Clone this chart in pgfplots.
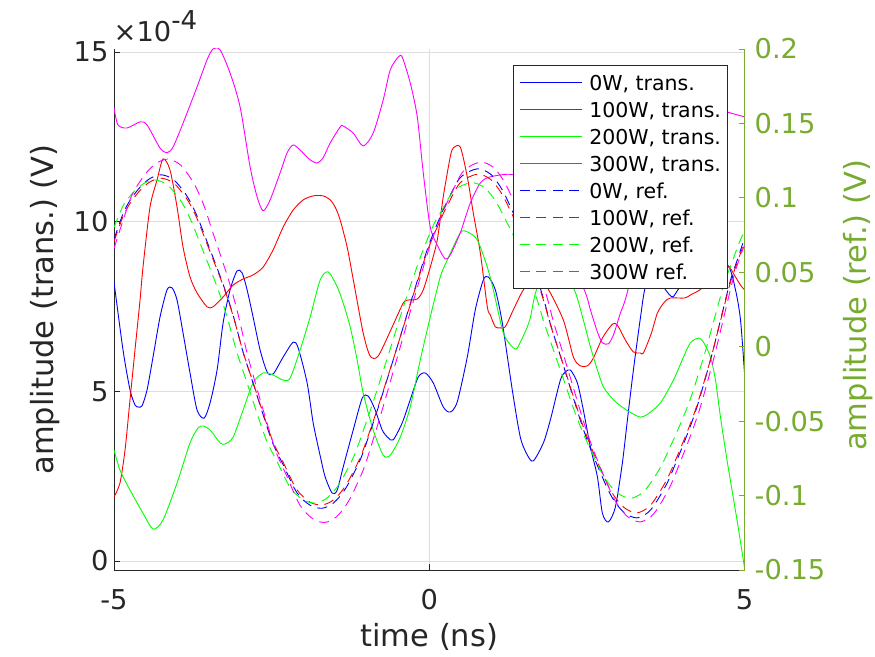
\documentclass[border=0pt]{standalone}
\usepackage{pgfplots}
\pgfplotsset{compat=1.18}
\usepackage{fontspec}
\setmainfont{DejaVu Sans}
\frenchspacing
\definecolor{axgray}{RGB}{38,38,38}
\definecolor{olivec}{RGB}{119,172,48}
\definecolor{gridc}{RGB}{222,222,222}
\definecolor{colB}{RGB}{0,0,255}
\definecolor{colR}{RGB}{255,0,0}
\definecolor{colG}{RGB}{0,255,0}
\definecolor{colM}{RGB}{255,0,255}
\begin{document}
\begin{tikzpicture}
\useasboundingbox (0,0) rectangle (875pt,656pt);
\begin{axis}[
  at={(114pt,86pt)}, anchor=south west,
  width=630.5pt, height=521pt, scale only axis,
  xmin=-5, xmax=5, ymin=-0.265, ymax=15.088,
  axis x line*=bottom, axis y line*=left,
  axis line style={axgray, line width=0.9pt},
  xtick={-5,0,5}, xticklabels={-5,0,5},
  ytick={0,5,10,15}, yticklabels={0,5,10,15},
  tick align=inside, major tick length=6pt,
  tick style={axgray, line width=0.9pt},
  grid=major, grid style={gridc, line width=0.8pt},
  ticklabel style={font=\fontsize{27.3}{32}\selectfont, text=axgray, inner sep=0pt},
  xticklabel style={yshift=-19pt},
  yticklabel style={xshift=-5.4pt},
  xlabel={time (ns)}, ylabel={amplitude (trans.) (V)},
  every axis x label/.style={at={(axis description cs:0.5,0)}, anchor=base, yshift=-76.7pt, font=\fontsize{30.5}{36}\selectfont, text=axgray},
  every axis y label/.style={at={(axis description cs:-0.0967,0.5)}, rotate=90, anchor=base, font=\fontsize{30.5}{36}\selectfont, text=axgray},
  every axis plot/.append style={line width=0.9pt, smooth, tension=0.45},
]
% 0W trans.
\addplot[draw=colB] coordinates {(-5.000,8.22) (-4.857,6.22) (-4.746,5.04) (-4.667,4.60) (-4.619,4.54) (-4.556,4.57) (-4.476,5.04) (-4.381,6.01) (-4.270,7.19) (-4.159,7.99) (-4.079,8.05) (-4.000,7.69) (-3.905,6.72) (-3.794,5.54) (-3.683,4.45) (-3.571,4.21) (-3.476,4.66) (-3.365,5.63) (-3.270,7.01) (-3.159,7.99) (-3.048,8.55) (-2.968,8.49) (-2.889,7.99) (-2.794,7.19) (-2.683,6.22) (-2.571,5.57) (-2.476,5.51) (-2.317,6.01) (-2.159,6.45) (-2.079,6.28) (-1.937,5.25) (-1.841,4.07) (-1.730,3.10) (-1.651,2.48) (-1.540,2.00) (-1.460,2.09) (-1.365,2.77) (-1.206,3.86) (-1.063,4.80) (-0.968,4.86) (-0.857,4.45) (-0.746,3.86) (-0.651,3.63) (-0.571,3.57) (-0.429,4.07) (-0.302,4.75) (-0.175,5.42) (-0.063,5.54) (0.063,5.25) (0.222,4.54) (0.333,4.39) (0.444,4.69) (0.603,6.01) (0.730,7.40) (0.857,8.28) (0.937,8.37) (1.048,7.99) (1.159,7.01) (1.317,5.04) (1.444,3.65) (1.556,3.12) (1.651,2.95) (1.810,3.48) (1.921,4.16) (2.079,5.33) (2.159,5.57) (2.238,5.63) (2.349,5.25) (2.444,4.45) (2.556,3.36) (2.667,2.48) (2.746,1.41) (2.841,1.15) (2.952,1.59) (3.063,2.89) (3.143,4.16) (3.238,5.63) (3.349,7.16) (3.429,8.08) (3.587,8.45) (3.714,8.08) (3.857,7.78) (3.984,8.08) (4.350,8.60) (4.730,8.70) (4.857,7.99) (4.937,7.10) (5.000,5.54)};
% 100W trans.
\addplot[draw=colR] coordinates {(-5.000,1.89) (-4.905,2.30) (-4.825,3.27) (-4.746,4.75) (-4.667,6.22) (-4.587,7.69) (-4.540,8.66) (-4.429,10.43) (-4.317,11.23) (-4.222,11.85) (-4.111,11.52) (-4.000,10.43) (-3.905,9.25) (-3.794,8.37) (-3.683,7.90) (-3.524,7.49) (-3.429,7.49) (-3.270,7.78) (-3.111,8.13) (-2.952,8.31) (-2.794,8.43) (-2.635,8.66) (-2.476,9.17) (-2.317,9.84) (-2.159,10.34) (-2.000,10.64) (-1.841,10.76) (-1.683,10.76) (-1.571,10.64) (-1.492,10.43) (-1.413,10.05) (-1.302,9.25) (-1.206,8.30) (-1.048,6.72) (-0.937,6.04) (-0.810,6.04) (-0.587,6.90) (-0.413,7.60) (-0.333,7.69) (-0.190,7.72) (-0.095,7.99) (0.016,8.66) (0.127,9.46) (0.222,10.73) (0.333,11.91) (0.381,12.17) (0.492,12.20) (0.603,11.32) (0.698,10.26) (0.810,9.08) (0.921,7.49) (0.968,7.25) (1.048,6.90) (1.127,6.87) (1.206,6.90) (1.333,7.40) (1.492,7.99) (1.635,8.25) (1.762,8.08) (1.873,8.05) (2.127,7.10) (2.286,6.01) (2.397,5.75) (2.508,5.75) (2.603,5.98) (2.746,6.57) (2.905,6.98) (2.984,6.95) (3.111,6.51) (3.238,6.16) (3.349,6.13) (3.397,6.13) (3.524,6.72) (3.619,7.31) (3.730,7.63) (3.825,7.75) (4.048,7.75) (4.143,7.84) (4.333,8.05) (4.550,8.60) (4.730,8.72) (4.857,8.37) (4.937,8.13) (5.000,7.99)};
% 200W trans.
\addplot[draw=colG] coordinates {(-5.000,3.27) (-4.905,2.68) (-4.746,2.09) (-4.540,1.41) (-4.381,0.94) (-4.222,1.21) (-4.000,2.30) (-3.794,3.48) (-3.667,3.92) (-3.587,3.98) (-3.476,3.86) (-3.317,3.48) (-3.238,3.45) (-3.111,3.65) (-2.952,4.45) (-2.794,5.25) (-2.635,5.54) (-2.476,5.48) (-2.317,5.33) (-2.206,5.39) (-2.048,6.22) (-1.889,7.19) (-1.730,8.28) (-1.603,8.52) (-1.460,8.08) (-1.365,7.60) (-1.254,6.90) (-1.143,5.92) (-1.048,4.95) (-0.889,3.86) (-0.730,3.12) (-0.619,3.12) (-0.460,3.65) (-0.302,4.54) (-0.143,5.92) (0.016,7.19) (0.175,8.37) (0.286,8.87) (0.492,9.67) (0.603,9.70) (0.762,9.46) (0.921,8.66) (1.016,7.99) (1.175,6.72) (1.317,6.31) (1.397,6.28) (1.556,6.90) (1.603,7.16) (1.714,8.05) (2.000,8.55) (2.286,8.05) (2.444,7.10) (2.556,6.31) (2.667,5.63) (2.762,5.13) (2.921,4.75) (3.079,4.51) (3.238,4.33) (3.349,4.24) (3.460,4.32) (3.667,4.66) (3.873,5.33) (4.032,6.01) (4.143,6.43) (4.270,6.57) (4.349,6.45) (4.460,6.01) (4.540,5.33) (4.619,4.24) (4.730,2.89) (4.889,1.12) (5.000,-0.20)};
% 300W trans.
\addplot[draw=colM] coordinates {(-5.000,13.35) (-4.937,12.85) (-4.794,12.76) (-4.587,12.94) (-4.476,12.85) (-4.270,12.17) (-4.159,12.03) (-4.063,12.20) (-3.905,12.90) (-3.683,13.97) (-3.524,14.77) (-3.429,15.09) (-3.317,15.06) (-3.159,14.38) (-3.000,13.38) (-2.841,11.61) (-2.730,10.73) (-2.635,10.32) (-2.524,10.64) (-2.365,11.44) (-2.254,12.03) (-2.159,12.26) (-2.048,12.11) (-1.889,11.82) (-1.778,11.73) (-1.683,11.88) (-1.571,12.32) (-1.413,12.79) (-1.365,12.82) (-1.206,12.61) (-1.048,12.23) (-0.889,12.61) (-0.730,13.59) (-0.619,14.47) (-0.492,14.85) (-0.429,14.85) (-0.302,14.09) (-0.190,13.09) (-0.095,11.44) (0.016,9.84) (0.143,9.25) (0.254,8.90) (0.333,9.02) (0.492,9.67) (0.651,10.55) (0.810,11.14) (0.968,11.32) (1.333,11.38) (1.650,10.90) (1.950,9.80) (2.444,8.05) (2.556,7.40) (2.667,6.75) (2.746,6.43) (2.841,6.40) (2.921,6.66) (3.032,7.31) (3.159,8.05) (3.650,12.00) (4.100,13.00) (4.500,13.40) (4.730,13.23) (5.000,13.09)};
\end{axis}
\begin{axis}[
  at={(114pt,86pt)}, anchor=south west,
  width=630.5pt, height=521pt, scale only axis,
  xmin=-5, xmax=5, ymin=-0.15, ymax=0.2,
  axis x line=none, axis y line*=right,
  axis line style={olivec, line width=0.9pt},
  ytick={-0.15,-0.1,-0.05,0,0.05,0.1,0.15,0.2},
  yticklabels={-0.15,-0.1,-0.05,0,0.05,0.1,0.15,0.2},
  tick align=inside, major tick length=6pt,
  tick style={olivec, line width=0.9pt},
  yticklabel style={font=\fontsize{27.3}{32}\selectfont, text=olivec, inner sep=0pt, xshift=10pt},
  ylabel={amplitude (ref.) (V)},
  every axis y label/.style={at={(axis description cs:1.1927,0.508)}, rotate=90, anchor=base, font=\fontsize{30.5}{36}\selectfont, text=olivec},
  every axis plot/.append style={line width=0.9pt, smooth, tension=0.5, dash pattern=on 10pt off 6.5pt},
  legend cell align=left,
  legend image code/.code={\draw[#1] (0pt,0pt) -- (62pt,0pt);},
  legend style={at={(0.6328,0.9693)}, anchor=north west, draw=axgray, fill=white, line width=0.9pt,
    inner xsep=6pt, inner ysep=7.5pt, font=\fontsize{20.5}{24}\selectfont,
    /tikz/row sep=8pt, /tikz/column sep=7pt,
    nodes={inner sep=0pt, text height=18pt, text depth=1pt}},
]
\addlegendimage{draw=colB, line width=0.9pt, solid}
\addlegendimage{draw=colR, line width=0.9pt, solid}
\addlegendimage{draw=colG, line width=0.9pt, solid}
\addlegendimage{draw=colM, line width=0.9pt, solid}
% 0W ref.
\addplot[draw=colB] coordinates {(-5.00,0.072) (-4.86,0.089) (-4.75,0.098) (-4.59,0.107) (-4.43,0.113) (-4.25,0.1155) (-4.05,0.112) (-3.84,0.101) (-3.68,0.0875) (-3.52,0.070) (-3.27,0.042) (-3.11,0.021) (-2.95,-0.004) (-2.79,-0.025) (-2.64,-0.045) (-2.48,-0.065) (-2.32,-0.079) (-2.10,-0.098) (-1.89,-0.1065) (-1.70,-0.1085) (-1.52,-0.105) (-1.33,-0.0955) (-1.10,-0.0765) (-0.94,-0.0575) (-0.78,-0.037) (-0.54,-0.0045) (-0.30,0.029) (-0.03,0.0655) (0.18,0.088) (0.29,0.098) (0.49,0.1135) (0.76,0.1195) (0.97,0.116) (1.13,0.1073) (1.25,0.0975) (1.52,0.0712) (1.81,0.0325) (1.92,0.0155) (2.13,-0.013) (2.29,-0.035) (2.44,-0.055) (2.60,-0.073) (2.87,-0.099) (3.08,-0.111) (3.29,-0.115) (3.48,-0.111) (3.62,-0.103) (3.78,-0.091) (3.94,-0.075) (4.10,-0.058) (4.25,-0.040) (4.46,-0.009) (4.62,0.018) (4.78,0.045) (4.90,0.060) (5.00,0.073)};
% 100W ref.
\addplot[draw=colR] coordinates {(-5.00,0.0706) (-4.86,0.0872) (-4.75,0.0960) (-4.59,0.1049) (-4.43,0.1107) (-4.25,0.1132) (-4.05,0.1098) (-3.84,0.0990) (-3.68,0.0858) (-3.52,0.0686) (-3.27,0.0412) (-3.11,0.0206) (-2.95,-0.0039) (-2.79,-0.0245) (-2.64,-0.0441) (-2.48,-0.0637) (-2.32,-0.0774) (-2.10,-0.0960) (-1.89,-0.1044) (-1.70,-0.1063) (-1.52,-0.1029) (-1.33,-0.0936) (-1.10,-0.0750) (-0.94,-0.0564) (-0.78,-0.0363) (-0.54,-0.0044) (-0.30,0.0284) (-0.03,0.0642) (0.18,0.0854) (0.29,0.0951) (0.49,0.1101) (0.76,0.1159) (0.97,0.1125) (1.13,0.1041) (1.25,0.0946) (1.52,0.0691) (1.81,0.0315) (1.92,0.0150) (2.13,-0.0126) (2.29,-0.0340) (2.44,-0.0534) (2.60,-0.0708) (2.87,-0.0960) (3.08,-0.1077) (3.29,-0.1116) (3.48,-0.1077) (3.62,-0.0999) (3.78,-0.0883) (3.94,-0.0728) (4.10,-0.0563) (4.25,-0.0388) (4.46,-0.0087) (4.62,0.0175) (4.78,0.0437) (4.90,0.0582) (5.00,0.0708)};
% 200W ref.
\addplot[draw=colG] coordinates {(-5.00,0.080) (-4.85,0.0951) (-4.69,0.1038) (-4.53,0.1096) (-4.35,0.1120) (-4.15,0.1086) (-3.94,0.0980) (-3.78,0.0849) (-3.62,0.0679) (-3.37,0.0408) (-3.21,0.0205) (-3.05,-0.0038) (-2.89,-0.0243) (-2.74,-0.0437) (-2.58,-0.0631) (-2.42,-0.0766) (-2.20,-0.0949) (-1.99,-0.1031) (-1.80,-0.1050) (-1.62,-0.1016) (-1.43,-0.0924) (-1.20,-0.0740) (-1.04,-0.0556) (-0.88,-0.0358) (-0.64,-0.0043) (-0.40,0.0282) (-0.13,0.0613) (0.08,0.0830) (0.19,0.0908) (0.39,0.1048) (0.66,0.1102) (0.87,0.1071) (1.03,0.0992) (1.15,0.0903) (1.42,0.0666) (1.71,0.0316) (1.82,0.0162) (2.03,-0.0096) (2.19,-0.0294) (2.34,-0.0475) (2.50,-0.0638) (2.77,-0.0873) (2.98,-0.0981) (3.19,-0.1018) (3.38,-0.0982) (3.52,-0.0909) (3.68,-0.0801) (3.84,-0.0656) (4.00,-0.0502) (4.15,-0.0340) (4.36,-0.0059) (4.52,0.0185) (4.68,0.0427) (4.80,0.0564) (4.90,0.0682) (5.00,0.078)};
% 300W ref.
\addplot[draw=colM] coordinates {(-5.00,0.066) (-4.76,0.0971) (-4.65,0.1069) (-4.49,0.1167) (-4.33,0.1232) (-4.15,0.1260) (-3.95,0.1222) (-3.74,0.1102) (-3.58,0.0955) (-3.43,0.0764) (-3.19,0.0459) (-3.04,0.0231) (-2.89,-0.0042) (-2.74,-0.0271) (-2.59,-0.0488) (-2.43,-0.0706) (-2.27,-0.0859) (-2.05,-0.1065) (-1.84,-0.1158) (-1.65,-0.1180) (-1.47,-0.1142) (-1.28,-0.1038) (-1.05,-0.0831) (-0.89,-0.0624) (-0.73,-0.0401) (-0.49,-0.0047) (-0.25,0.0310) (0.02,0.0690) (0.23,0.0916) (0.34,0.1019) (0.54,0.1179) (0.81,0.1240) (1.02,0.1204) (1.18,0.1115) (1.30,0.1013) (1.57,0.0743) (1.86,0.0343) (1.97,0.0168) (2.18,-0.0126) (2.34,-0.0353) (2.49,-0.0559) (2.65,-0.0744) (2.92,-0.1012) (3.13,-0.1136) (3.34,-0.1177) (3.53,-0.1136) (3.67,-0.1054) (3.83,-0.0930) (3.99,-0.0765) (4.15,-0.0590) (4.30,-0.0404) (4.51,-0.0083) (4.67,0.0195) (4.83,0.0472) (4.95,0.0627) (5.00,0.068)};
\legend{0W{,} trans., 100W{,} trans., 200W{,} trans., 300W{,} trans., 0W{,} ref., 100W{,} ref., 200W{,} ref., 300W ref.}
\end{axis}
\node[anchor=base west, inner sep=0pt, text=axgray, font=\fontsize{27.3}{32}\selectfont] at (113.5pt,614pt) {×10\raisebox{12pt}{\fontsize{26}{30}\selectfont -4}};
\end{tikzpicture}
\end{document}
